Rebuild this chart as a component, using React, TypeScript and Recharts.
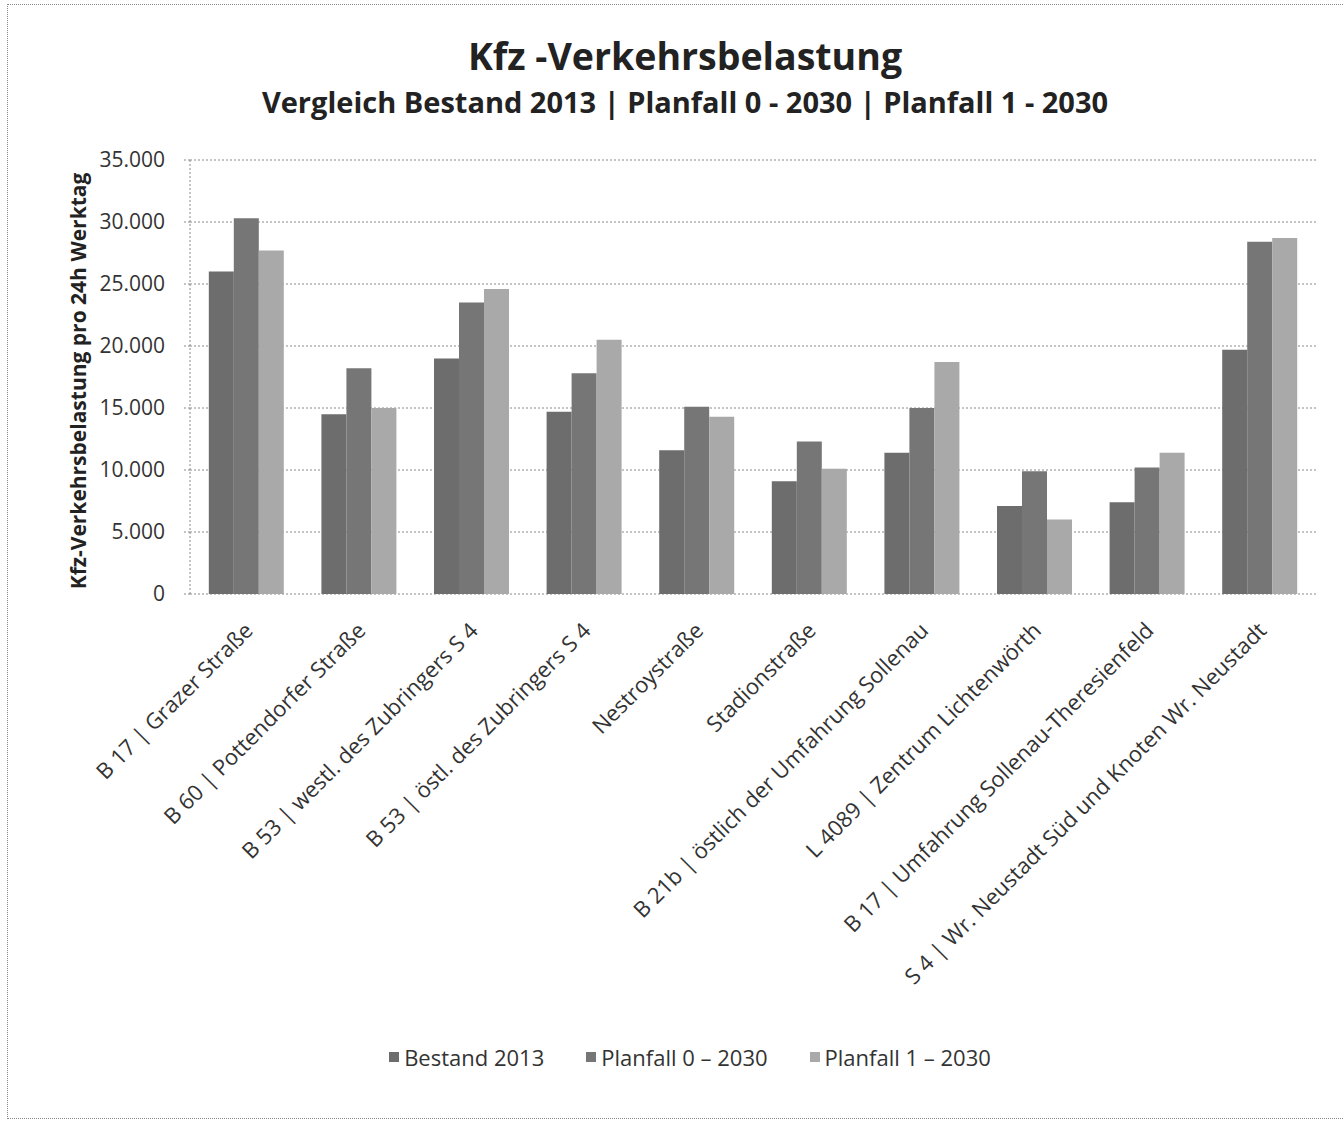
import { BarChart, Bar, XAxis, YAxis, CartesianGrid } from 'recharts';

const categories = [
    'B 17 | Grazer Straße',
    'B 60 | Pottendorfer Straße',
    'B 53 | westl. des Zubringers S 4',
    'B 53 | östl. des Zubringers S 4',
    'Nestroystraße',
    'Stadionstraße',
    'B 21b | östlich der Umfahrung Sollenau',
    'L 4089 | Zentrum Lichtenwörth',
    'B 17 | Umfahrung Sollenau-Theresienfeld',
    'S 4 | Wr. Neustadt Süd und Knoten Wr. Neustadt',
];

const bestand2013 = [26000, 14500, 19000, 14700, 11600, 9100, 11400, 7100, 7400, 19700];
const planfall0 = [30300, 18200, 23500, 17800, 15100, 12300, 15000, 9900, 10200, 28400];
const planfall1 = [27700, 15000, 24600, 20500, 14300, 10100, 18700, 6000, 11400, 28700];

const yTicks = [0, 5000, 10000, 15000, 20000, 25000, 30000, 35000];
const separatorTicks = [0, 1, 2, 3, 4, 5, 6, 7, 8, 9, 10];

const seriesNames = ['Bestand 2013', 'Planfall 0 – 2030', 'Planfall 1 – 2030'];
const seriesKeys = ['bestand', 'p0', 'p1'];
const COLORS = ['#6d6d6d', '#767676', '#a9a9a9'];

const FONT = "'Open Sans', sans-serif";

const data = categories.map((name, i) => ({
    name,
    bestand: bestand2013[i],
    p0: planfall0[i],
    p1: planfall1[i],
}));

const formatThousands = (v: number) => String(v).replace(/\B(?=(\d{3})+(?!\d))/g, '.');

const RotatedTick = ({ x, y, payload }: any) => (
    <g transform={`translate(${x},${y})`}>
        <text
            x={8}
            y={38}
            textAnchor="end"
            transform="rotate(-45, 8, 38)"
            fontSize={22}
            fill="#333"
            fontFamily={FONT}
        >
            {payload.value}
        </text>
    </g>
);

const YLabel = ({ viewBox }: any) => {
    const cx = 86;
    const cy = viewBox.y + viewBox.height / 2 + 4;
    return (
        <text
            x={cx}
            y={cy}
            transform={`rotate(-90, ${cx}, ${cy})`}
            textAnchor="middle"
            fontSize={21}
            fontWeight="bold"
            fill="#222"
            fontFamily={FONT}
        >
            Kfz-Verkehrsbelastung pro 24h Werktag
        </text>
    );
};

const App = () => {
    return (
        <div style={{ position: 'absolute', left: 0, top: 0, width: 1343, height: 1121, background: '#fff', overflow: 'hidden' }}>
            <div
                style={{
                    position: 'absolute',
                    left: 7,
                    top: 4,
                    width: 1345,
                    height: 1113,
                    borderTop: '1px dotted #888',
                    borderLeft: '1px dotted #888',
                    borderBottom: '1px dotted #888',
                }}
            />
            <div style={{ position: 'absolute', top: 37, left: 0, width: 1370, textAlign: 'center', fontFamily: FONT, fontWeight: 'bold', fontSize: 37.5, lineHeight: 1, color: '#222' }}>
                Kfz -Verkehrsbelastung
            </div>
            <div style={{ position: 'absolute', top: 87, left: 0, width: 1370, textAlign: 'center', fontFamily: FONT, fontWeight: 'bold', fontSize: 29, lineHeight: 1, color: '#222' }}>
                Vergleich Bestand 2013 | Planfall 0 - 2030 | Planfall 1 - 2030
            </div>

            <div style={{ position: 'absolute', left: 0, top: 0 }}>
                <BarChart
                    width={1343}
                    height={1121}
                    data={data}
                    margin={{ top: 160, right: 27, left: 0, bottom: 0 }}
                    barCategoryGap="16.7%"
                    barGap={0}
                >
                    <CartesianGrid vertical={false} stroke="#8a8a8a" strokeDasharray="2 2" xAxisId="b" />
                    <XAxis
                        xAxisId="a"
                        type="number"
                        domain={[0, 10]}
                        ticks={separatorTicks}
                        tick={false}
                        tickSize={6}
                        height={0}
                        stroke="#8a8a8a"
                        strokeDasharray="2 2"
                    />
                    <XAxis
                        xAxisId="b"
                        dataKey="name"
                        interval={0}
                        height={527}
                        axisLine={false}
                        tickLine={false}
                        tickSize={0}
                        tickMargin={0}
                        tick={<RotatedTick />}
                    />
                    <YAxis
                        width={190}
                        domain={[0, 35000]}
                        ticks={yTicks}
                        tickFormatter={formatThousands}
                        tickSize={6}
                        tickMargin={19}
                        stroke="#8a8a8a"
                        strokeDasharray="2 2"
                        tick={{ fontSize: 21, fill: '#333', fontFamily: FONT }}
                        label={<YLabel />}
                    />
                    {seriesKeys.map((key, i) => (
                        <Bar key={key} xAxisId="b" dataKey={key} name={seriesNames[i]} fill={COLORS[i]} isAnimationActive={false} />
                    ))}
                </BarChart>
            </div>

            <div
                style={{
                    position: 'absolute',
                    top: 1042,
                    left: 0,
                    width: 1380,
                    display: 'flex',
                    justifyContent: 'center',
                    gap: 42,
                    fontFamily: FONT,
                    fontSize: 22,
                    color: '#333',
                }}
            >
                {seriesNames.map((name, i) => (
                    <div key={name} style={{ display: 'flex', alignItems: 'center', gap: 5 }}>
                        <span style={{ display: 'inline-block', width: 10, height: 10, background: COLORS[i] }} />
                        <span>{name}</span>
                    </div>
                ))}
            </div>
        </div>
    );
};

export default App;
